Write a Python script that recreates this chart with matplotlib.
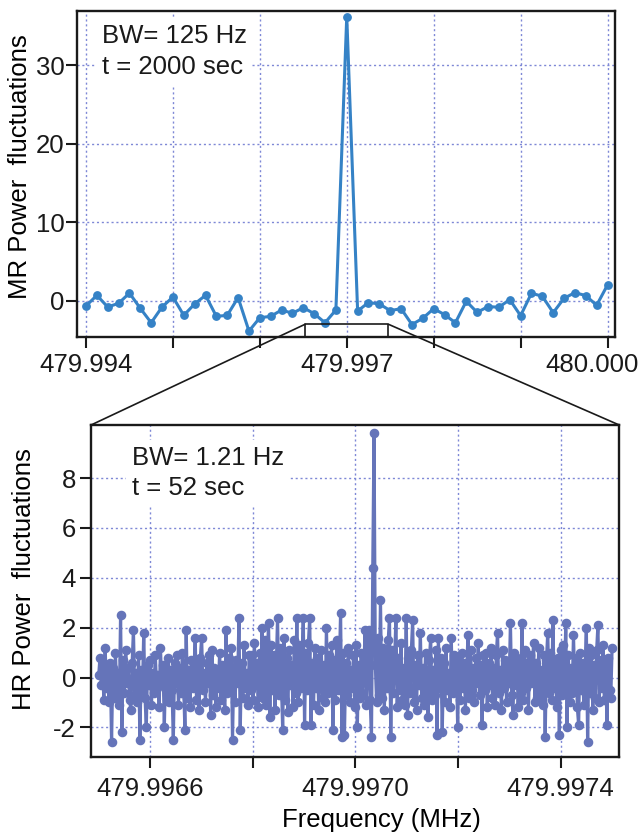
import numpy as np
import matplotlib
matplotlib.use("Agg")
import matplotlib.pyplot as plt
import matplotlib.transforms as mtransforms
from matplotlib.patches import ConnectionPatch
from matplotlib.lines import Line2D

plt.rcParams['font.family'] = ['Liberation Sans', 'DejaVu Sans']
plt.rcParams['axes.unicode_minus'] = False

# ---------------- data ----------------
# Top panel: MR power fluctuations, 125 Hz bins
mr_start = 479.994
mr_step = 0.000125
mr_values = [-0.64, 0.72, -0.77, -0.3, 1.0, -0.94, -2.77, -0.77, 0.5, -1.83,
             -0.38, 0.72, -1.96, -1.83, 0.43, -3.83, -2.13, -1.96, -1.15, -1.57,
             -0.85, -1.62, -2.77, -1.15, 36.2, -1.28, -0.2, -0.38, -1.23, -0.98,
             -3.0, -2.2, -0.98, -1.74, -2.77, -0.04, -1.45, -0.72, -0.8, 0.17,
             -1.87, 0.98, 0.6, -1.49, 0.34, 1.06, 0.68, -0.55, 2.04]

# Bottom panel: HR power fluctuations (zoom), from 479.99650 to 479.99750 MHz
hr_start = 479.99650
hr_stop = 479.99750
hr_values = [
    0.1, 0.8, -0.3, 0.5, -0.9, 1.2, -0.4, 0.3, -1.0, 0.6, -2.6, 0.4, -0.8, 1.0, -0.5, 0.2, -1.1, 2.5, -2.2, 0.7,
    -0.6, 1.1, -0.2, 0.4, -0.9, -1.3, 0.6, 1.9, -0.7, 0.2, -1.0, 0.9, -2.5, 0.3, -0.5, 1.8, -0.8, -2.0, 0.5, -0.3,
    0.7, -1.1, 0.2, -0.6, 0.9, -0.4, 0.1, -1.2, 1.2, -0.3, 0.5, -2.0, 0.4, -0.7, 0.8, -1.0, 0.3, -0.5, -2.5, 0.6,
    -0.2, 0.9, -1.1, 0.4, -0.6, 1.0, -0.3, -2.1, 1.9, -0.8, 0.3, -1.2, 0.7, -0.4, 0.2, 1.6, -0.9, 0.5, -1.3, 0.8,
    1.6, -0.5, 0.2, -1.0, 0.6, -0.2, 0.9, -1.5, 1.1, -0.7, 0.4, -1.2, 0.3, -0.4, 1.0, -0.9, 0.5, -0.1, -1.3, 1.9,
    -0.6, 0.8, -0.3, 1.2, -2.5, 0.4, -1.0, 0.7, -0.2, 2.4, -2.1, 0.6, -0.8, 1.3, -0.4, 0.2, -1.1, 0.9, -0.5, 0.9,
    -0.9, 1.4, -0.3, 0.6, -1.2, 1.0, -0.6, 2.0, -0.8, 1.5, -1.1, 0.7, 2.2, -1.6, 1.3, -0.5, 0.9, -1.3, 0.4, 2.4,
    -0.7, 1.2, -0.2, -2.1, 1.6, -0.9, 0.8, -1.4, 1.1, -0.3, 0.5, -1.2, 1.5, -0.6, 2.4, -1.0, 1.3, -0.4, 0.7, 2.4,
    -1.9, 1.0, -0.5, 1.4, 2.4, -1.9, 0.6, -1.1, 1.2, -0.4, 0.8, -1.3, 0.3, 1.1, -0.8, 0.5, -1.0, 2.0, -0.6, 0.9,
    -0.3, 1.3, -2.1, 0.7, -0.9, 1.5, -0.5, 0.4, 2.6, -2.4, 1.0, -2.3, 0.6, -0.7, 1.2, -1.0, 0.3, -0.4, 0.9, -1.2,
    1.3, -2.0, 0.5, -0.8, 1.0, -0.6, 0.2, 1.9, -1.1, 0.6, 1.9, -0.9, -2.4, 4.4, 9.8, 0.5, -1.0, 1.6, -0.7, 3.1,
    -0.8, 1.2, -1.3, 0.9, -0.4, 1.5, 2.4, -2.4, 1.1, -0.6, 0.7, 2.4, -1.2, 0.8, -0.5, 1.4, -0.9, 0.4, -1.1, 2.4,
    -1.5, 0.8, -0.6, 1.1, 2.3, -1.0, 0.5, -1.3, 0.9, -0.3, 1.8, -0.8, 0.4, -1.1, 1.0, -0.5, -1.6, 0.7, 1.6, -0.9,
    0.3, -0.7, 1.1, -2.3, 1.6, -0.4, 0.8, -2.2, 0.6, -1.0, 1.2, -0.5, 0.2, -1.2, 1.6, -0.6, 0.9, -0.3, 0.5, -2.0,
    0.7, -0.9, 1.0, -0.4, 0.6, -1.3, 0.3, 1.7, -0.8, 1.1, -0.5, 0.4, -1.0, 0.8, -0.2, 1.4, -0.7, 0.5, -1.9, 0.9,
    -0.5, 1.0, -1.2, 0.6, -0.3, 1.2, -0.8, 0.4, -1.1, 0.9, 1.8, -0.6, 0.3, -1.3, 1.1, -0.4, 0.7, -1.0, 0.5, -0.2,
    2.2, -0.7, -1.5, 1.0, -0.3, 0.8, -1.2, 0.5, -0.6, 2.2, -0.9, 1.1, -0.4, 0.6, -1.3, 0.9, -0.2, 0.4, 1.4, -1.0,
    0.6, -0.8, 1.2, -0.5, 0.3, -1.1, 0.9, -2.4, 0.7, 1.8, -0.6, 1.0, -0.9, 2.3, -0.4, 0.5, -1.2, 0.8, -2.3, 1.1,
    -0.7, 1.3, -0.4, 2.2, -2.0, 0.9, -1.0, 0.4, -0.6, 1.7, -0.3, 0.8, -1.2, -1.9, 1.0, -0.5, 0.6, -1.1, 0.3, 2.0,
    -2.6, 1.2, -0.6, 0.9, -1.3, 0.5, -0.8, 1.1, 2.1, -1.0, 0.7, -0.4, 1.3, -0.9, 0.6, -1.9, 0.8, -0.5, -0.8, 1.2,
]

top_xticks = [479.994, 479.995, 479.996, 479.997, 479.998, 479.999, 480.000]
top_xticklabels = ['479.994', '', '', '479.997', '', '', '480.000']
top_yticks = [0, 10, 20, 30]
bot_xticks = [479.9966, 479.9968, 479.9970, 479.9972, 479.9974]
bot_xticklabels = ['479.9966', '', '479.9970', '', '479.9974']
bot_yticks = [-2, 0, 2, 4, 6, 8]

# zoom window marked on the top panel
zoom_lo, zoom_hi, zoom_top = 479.99652, 479.99748, -2.97

mr_freq = mr_start + mr_step * np.arange(len(mr_values))
hr_freq = np.linspace(hr_start, hr_stop, len(hr_values))

# ---------------- style ----------------
top_color = '#3582C6'
bot_color = '#6574B9'
grid_color = '#7E88D6'
fs = 18.5

fig = plt.figure(figsize=(6.44, 8.36), dpi=100)
ax1 = fig.add_axes([0.1203, 0.5963, 0.955 - 0.1203, 0.9868 - 0.5963])
ax2 = fig.add_axes([0.1413, 0.0941, 0.9616 - 0.1413, 0.4916 - 0.0941])

for ax in (ax1, ax2):
    for s in ax.spines.values():
        s.set_linewidth(1.7)
        s.set_color('#1a1a1a')
    ax.grid(True, color=grid_color, linestyle=(0, (1.5, 2.0)), linewidth=1.0)
    ax.set_axisbelow(True)
    ax.tick_params(axis='both', direction='out', length=7.8, width=1.5,
                   labelsize=fs, colors='#1a1a1a')

# top panel
ax1.plot(mr_freq, mr_values, '-o', color=top_color, lw=2.2, ms=5.3, zorder=3)
ax1.set_xlim(479.993902, 480.0000863)
ax1.set_ylim(-4.65, 36.9)
ax1.set_xticks(top_xticks)
ax1.set_xticklabels(top_xticklabels)
ax1.set_yticks(top_yticks)
ax1.tick_params(axis='y', pad=1.5)
ax1.tick_params(axis='x', pad=3.5)
# last label is pulled inwards so it stays inside the figure
last = ax1.get_xticklabels()[-1]
last.set_transform(last.get_transform() +
                   mtransforms.ScaledTranslation(-0.155, 0, fig.dpi_scale_trans))
ax1.set_ylabel('MR Power  fluctuations', fontsize=fs, va='center')
ax1.yaxis.set_label_coords(-0.106, 0.522)
ax1.text(0.0448, 0.960, 'BW= 125 Hz\nt = 2000 sec', transform=ax1.transAxes,
         ha='left', va='top', fontsize=fs, linespacing=1.38, color='#1a1a1a',
         bbox=dict(facecolor='white', edgecolor='none', pad=4), zorder=2)

# bottom panel
ax2.plot(hr_freq, hr_values, '-o', color=bot_color, lw=2.3, ms=5.9, zorder=3)
ax2.set_xlim(479.996485, 479.997514)
ax2.set_ylim(-3.2, 10.13)
ax2.set_xticks(bot_xticks)
ax2.set_xticklabels(bot_xticklabels)
ax2.set_yticks(bot_yticks)
ax2.tick_params(axis='y', pad=3)
ax2.tick_params(axis='x', pad=6.5)
ax2.set_ylabel('HR Power  fluctuations', fontsize=fs, va='center')
ax2.yaxis.set_label_coords(-0.126, 0.537)
ax2.set_xlabel('Frequency (MHz)', fontsize=fs, va='center')
ax2.xaxis.set_label_coords(0.549, -0.189)
ax2.text(0.0776, 0.937, 'BW= 1.21 Hz\nt = 52 sec', transform=ax2.transAxes,
         ha='left', va='top', fontsize=fs, linespacing=1.3, color='#1a1a1a',
         bbox=dict(facecolor='white', edgecolor='none', pad=4), zorder=2)

# zoom box and connectors
ybot = ax1.get_ylim()[0]
box = Line2D([zoom_lo, zoom_lo, zoom_hi, zoom_hi], [ybot, zoom_top, zoom_top, ybot],
             color='#1a1a1a', lw=1.2, clip_on=False, zorder=4)
ax1.add_line(box)
for xz, xa in ((zoom_lo, 0.0), (zoom_hi, 1.0)):
    con = ConnectionPatch(xyA=(xz, zoom_top), coordsA=ax1.transData,
                          xyB=(xa, 1.0), coordsB=ax2.transAxes,
                          color='#1a1a1a', lw=1.2)
    fig.add_artist(con)

fig.savefig('out.png', dpi=100)
